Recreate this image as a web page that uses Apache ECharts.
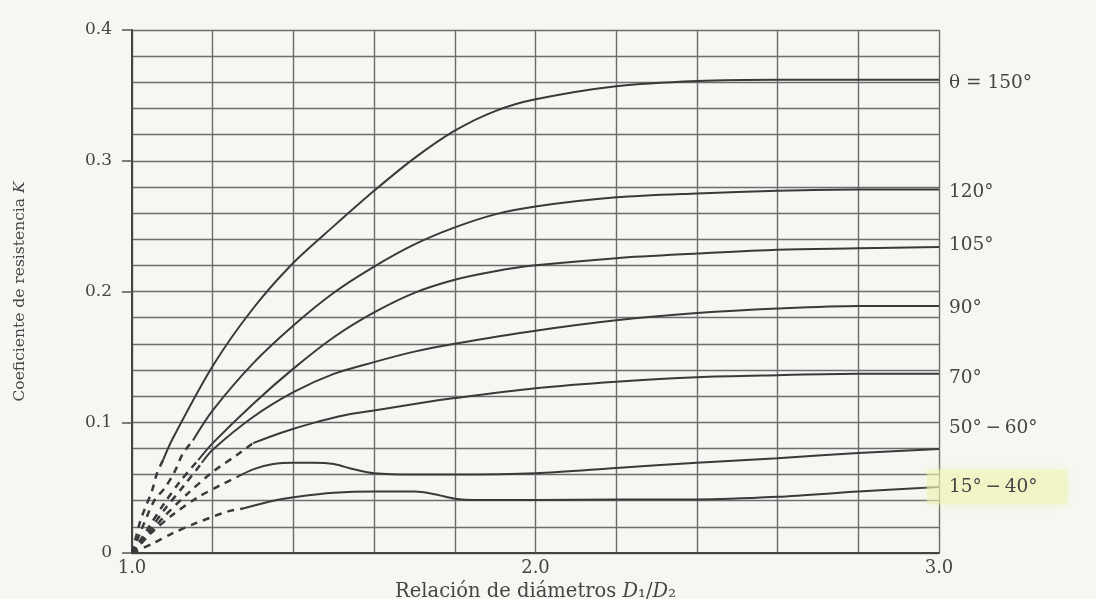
<!DOCTYPE html>
<html>
<head>
<meta charset="utf-8">
<script src="https://cdn.jsdelivr.net/npm/echarts@6/dist/echarts.min.js"></script>
<style>
html,body{margin:0;padding:0;background:#f5f7f3;}
#c{width:1096px;height:599px;}
</style>
</head>
<body>
<div id="c"></div>
<script>
// ---- data (x = D1/D2, y = K) ----
const k150 = [[1.077,0.071],[1.1,0.087],[1.2,0.143],[1.3,0.187],[1.4,0.222],[1.5,0.250],[1.6,0.277],[1.7,0.302],[1.8,0.323],[1.9,0.338],[2.0,0.347],[2.2,0.357],[2.4,0.361],[2.6,0.362],[2.8,0.362],[3.0,0.362]];
const k120 = [[1.151,0.086],[1.2,0.109],[1.3,0.145],[1.4,0.174],[1.5,0.199],[1.6,0.219],[1.7,0.236],[1.8,0.249],[1.9,0.259],[2.0,0.265],[2.2,0.272],[2.4,0.275],[2.6,0.277],[2.8,0.278],[3.0,0.278]];
const k105 = [[1.164,0.071],[1.2,0.084],[1.3,0.114],[1.4,0.141],[1.5,0.165],[1.6,0.184],[1.7,0.199],[1.8,0.209],[1.9,0.2155],[2.0,0.220],[2.2,0.2255],[2.4,0.229],[2.6,0.232],[2.8,0.233],[3.0,0.234]];
const k90  = [[1.173,0.069],[1.2,0.079],[1.3,0.104],[1.4,0.123],[1.5,0.137],[1.6,0.146],[1.7,0.154],[1.8,0.160],[2.0,0.170],[2.2,0.178],[2.4,0.1835],[2.6,0.187],[2.8,0.189],[3.0,0.189]];
const k70  = [[1.30,0.084],[1.37,0.092],[1.45,0.0995],[1.53,0.1055],[1.6,0.109],[1.7,0.114],[1.8,0.1185],[2.0,0.126],[2.2,0.131],[2.4,0.1345],[2.6,0.136],[2.8,0.137],[3.0,0.137]];
const k5060 = [[1.26,0.058],[1.30,0.064],[1.35,0.068],[1.40,0.069],[1.45,0.069],[1.50,0.068],[1.55,0.064],[1.60,0.061],[1.70,0.060],[1.80,0.060],[2.0,0.061],[2.2,0.065],[2.4,0.069],[2.6,0.0725],[2.8,0.0765],[3.0,0.0795]];
const k1540 = [[1.275,0.034],[1.35,0.040],[1.41,0.043],[1.5,0.046],[1.6,0.047],[1.7,0.047],[1.75,0.045],[1.8,0.0415],[1.85,0.0405],[2.0,0.0405],[2.2,0.041],[2.4,0.041],[2.6,0.043],[2.8,0.047],[3.0,0.0505]];

// dashed extensions toward the origin
const d150 = [[1.0,0.0],[1.02,0.024],[1.032,0.034],[1.05,0.048],[1.062,0.061],[1.077,0.071]];
const d120 = [[1.0,0.0],[1.037,0.028],[1.057,0.041],[1.082,0.050],[1.107,0.063],[1.126,0.076],[1.151,0.086]];
const d105 = [[1.0,0.0],[1.04,0.019],[1.08,0.038],[1.12,0.055],[1.164,0.071]];
const d90  = [[1.0,0.0],[1.04,0.016],[1.08,0.033],[1.13,0.052],[1.173,0.069]];
const d70  = [[1.0,0.0],[1.03,0.010],[1.08,0.028],[1.14,0.046],[1.2,0.062],[1.26,0.075],[1.30,0.084]];
const d5060 = [[1.0,0.0],[1.05,0.016],[1.10,0.029],[1.16,0.042],[1.22,0.052],[1.26,0.058]];
const d1540 = [[1.0,0.0],[1.05,0.007],[1.10,0.015],[1.16,0.023],[1.24,0.032],[1.275,0.034]];

const curveLabels = ['θ = 150°','120°','105°','90°','70°','50°\u2009−\u200960°','15°\u2009−\u200940°'];
const xTickLabels = ['1.0','2.0','3.0'];
const yTickLabels = ['0','0.1','0.2','0.3','0.4'];

const solid = [k150,k120,k105,k90,k70,k5060,k1540];
const dashed = [d150,d120,d105,d90,d70,d5060,d1540];
const labelDy = [4,3,-2,2,4,-21,0];

const ink = '#3a3a3a';
const textCol = '#454545';
const serif = '"DejaVu Serif","Liberation Serif",serif';

const series = [];
solid.forEach((d,i)=>{
  const hl = i===6;
  series.push({
    type:'line', data:d, showSymbol:false, smooth:0.3,
    lineStyle:{color:ink,width:2}, silent:true, z:5,
    endLabel:{show:true, formatter:curveLabels[i], color:textCol, fontFamily:serif, fontSize:18.5,
      distance:10, offset:[hl ? -22 : 0, labelDy[i]],
      backgroundColor: hl ? 'rgba(240,243,175,0.5)' : 'transparent',
      padding: hl ? [8,30,8,22] : 0,
      shadowColor: hl ? 'rgba(240,243,175,0.8)' : 'transparent', shadowBlur: hl ? 12 : 0}
  });
});
dashed.forEach(d=>{
  series.push({
    type:'line', data:d, showSymbol:false, smooth:0.3,
    lineStyle:{color:ink,width:2.5,type:[7,6]}, silent:true, z:5
  });
});

const chart = echarts.init(document.getElementById('c'));
chart.setOption({
  backgroundColor:'#f5f7f3',
  animation:false,
  grid:{left:132,right:157,top:30,bottom:46,containLabel:false,outerBoundsMode:'none'},
  xAxis:[
    {type:'value',min:1,max:3,interval:0.2,
     axisLine:{show:true,onZero:false,lineStyle:{color:'#444',width:2}},
     axisTick:{show:false},axisLabel:{show:false},
     splitLine:{show:true,lineStyle:{color:'#6c6c6c',width:1.4}}},
    {type:'value',min:1,max:3,interval:1,position:'bottom',
     axisLine:{show:false},axisTick:{show:false},splitLine:{show:false},
     axisLabel:{formatter:(v)=>xTickLabels[Math.round(v-1)],fontFamily:serif,fontSize:18,color:textCol,margin:6},
     name:'Relación de diámetros {i|D}₁/{i|D}₂',nameLocation:'middle',nameGap:23,
     nameTextStyle:{fontFamily:serif,fontSize:19.5,color:textCol,
       rich:{i:{fontFamily:serif,fontSize:19.5,fontStyle:'italic',color:textCol}}}}
  ],
  yAxis:[
    {type:'value',min:0,max:0.4,interval:0.02,
     axisLine:{show:true,onZero:false,lineStyle:{color:'#444',width:2}},
     axisTick:{show:false},axisLabel:{show:false},
     splitLine:{show:true,lineStyle:{color:'#6c6c6c',width:1.4}}},
    {type:'value',min:0,max:0.4,interval:0.1,position:'left',
     axisLine:{show:false},splitLine:{show:false},
     axisTick:{show:true,length:10,lineStyle:{color:'#555',width:1.5}},
     axisLabel:{formatter:(v)=>yTickLabels[Math.round(v*10)],fontFamily:serif,fontSize:17,color:textCol,margin:20},
     name:'Coeficiente de resistencia {i|K}',nameLocation:'middle',nameGap:104,
     nameTextStyle:{fontFamily:serif,fontSize:15.5,color:textCol,
       rich:{i:{fontFamily:serif,fontSize:15.5,fontStyle:'italic',color:textCol}}}}
  ],
  series:series
});
</script>
</body>
</html>
